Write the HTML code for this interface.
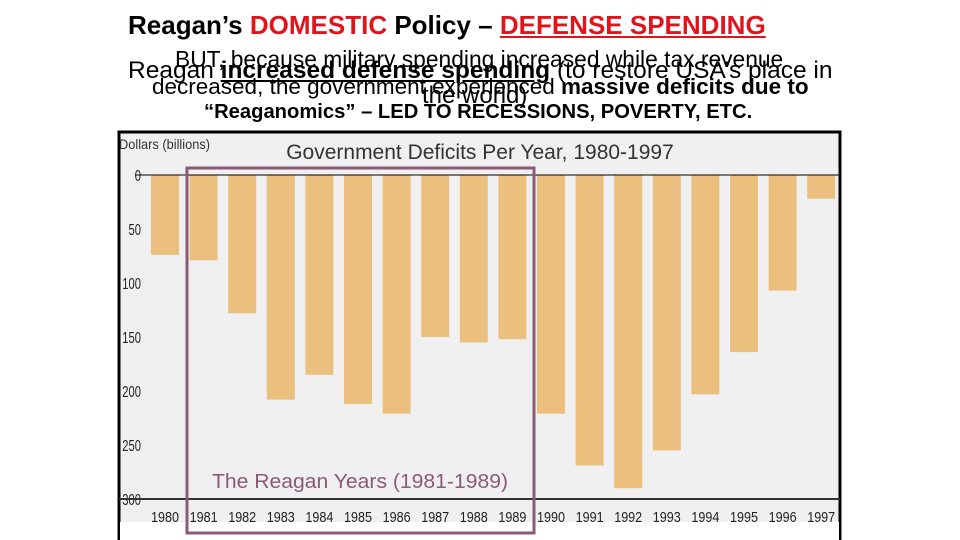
<!DOCTYPE html>
<html><head><meta charset="utf-8"><style>
body{margin:0;width:960px;height:540px;background:#fff;overflow:hidden;position:relative;font-family:"Liberation Sans",sans-serif}
.t{position:absolute;white-space:nowrap}
</style></head><body>
<div class="t" style="left:128px;top:10px;font-size:26px;font-weight:bold;color:#000">Reagan’s <span style="color:#e0141c">DOMESTIC</span> Policy – <span style="color:#e0141c;text-decoration:underline">DEFENSE SPENDING</span></div>
<div class="t" style="left:128px;top:57px;font-size:24.5px;color:#000">Reagan <b style="text-decoration:underline">increased defense spending</b> (to restore USA’s place in</div>
<div class="t" style="left:422px;top:82px;font-size:24px;color:#000">the world)</div>
<div class="t" style="left:175px;top:46px;font-size:22.8px;color:#000">BUT, because military spending increased while tax revenue</div>
<div class="t" style="left:152px;top:74px;font-size:22.5px;color:#000">decreased, the government experienced <b>massive deficits due to</b></div>
<div class="t" style="left:204px;top:101px;font-size:20.2px;font-weight:bold;color:#000">“Reaganomics” – LED TO RECESSIONS, POVERTY, ETC.</div>
<svg id="chart" width="960" height="540" style="position:absolute;left:0;top:0">
<rect x="119" y="132" width="721" height="408" fill="#f0f0f0" stroke="#000" stroke-width="3"/>
<rect x="120" y="522" width="719" height="18" fill="#fff"/>
<text x="119" y="149" font-size="14" fill="#333" textLength="91" lengthAdjust="spacingAndGlyphs" font-family="Liberation Sans,sans-serif">Dollars (billions)</text>
<text x="480" y="159" font-size="21" fill="#333" text-anchor="middle" font-family="Liberation Sans,sans-serif">Government Deficits Per Year, 1980-1997</text>
<g id="bars"></g><g id="ticks"></g>
<line x1="135" y1="175" x2="840" y2="175" stroke="#000" stroke-width="1"/>
<line x1="119" y1="499" x2="840" y2="499" stroke="#333" stroke-width="2"/>
<rect x="187" y="168" width="347" height="365" fill="none" stroke="#8b5a78" stroke-width="3"/>
<text x="360" y="488" font-size="20" fill="#8b5a78" text-anchor="middle" textLength="296" lengthAdjust="spacingAndGlyphs" font-family="Liberation Sans,sans-serif">The Reagan Years (1981-1989)</text>
</svg>
<script>
const years=["1980","1981","1982","1983","1984","1985","1986","1987","1988","1989","1990","1991","1992","1993","1994","1995","1996","1997"];
const deficits=[74,79,128,208,185,212,221,150,155,152,221,269,290,255,203,164,107,22];
const yTicks=[0,50,100,150,200,250,300];
const NS="http://www.w3.org/2000/svg";
const y=v=>175+v*1.08;
const x=i=>165+i*38.6;
const bars=document.getElementById('bars'),ticks=document.getElementById('ticks');
deficits.forEach((v,i)=>{
 const r=document.createElementNS(NS,'rect');
 r.setAttribute('x',x(i)-14);r.setAttribute('y',y(0));r.setAttribute('width',28);r.setAttribute('height',y(v)-y(0));r.setAttribute('fill','#ebc07f');
 
 
 bars.appendChild(r);
 const t=document.createElementNS(NS,'text');
 t.setAttribute('x',x(i)-14);t.setAttribute('y',522);t.setAttribute('font-size','15');t.setAttribute('fill','#222');t.setAttribute('textLength','28');t.setAttribute('lengthAdjust','spacingAndGlyphs');t.setAttribute('font-family','Liberation Sans,sans-serif');
 t.textContent=years[i];
 
 
 ticks.appendChild(t);
});
yTicks.forEach(v=>{
 const t=document.createElementNS(NS,'text');
 t.setAttribute('x',141);t.setAttribute('y',y(v)+6);t.setAttribute('text-anchor','end');t.setAttribute('font-size','16');t.setAttribute('fill','#222');t.setAttribute('font-family','Liberation Sans,sans-serif');
 t.setAttribute('transform','translate(141,0) scale(0.7,1) translate(-141,0)');
 t.textContent=v;
 
 
 ticks.appendChild(t);
});
</script>
</body></html>
